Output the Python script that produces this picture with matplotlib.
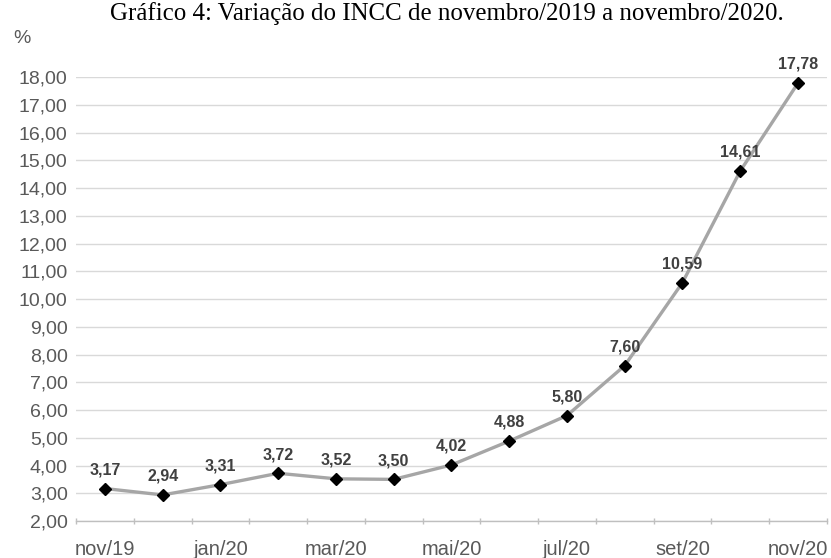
import matplotlib.pyplot as plt

# variação acumulada do INCC em 12 meses (%)
months = ['nov/19', 'dez/19', 'jan/20', 'fev/20', 'mar/20', 'abr/20', 'mai/20',
          'jun/20', 'jul/20', 'ago/20', 'set/20', 'out/20', 'nov/20']
incc = [3.17, 2.94, 3.31, 3.72, 3.52, 3.50, 4.02, 4.88, 5.80, 7.60, 10.59, 14.61, 17.78]
yticks = list(range(2, 19))

fig = plt.figure(figsize=(8.31, 5.58), dpi=100)
ax = fig.add_axes([0.0915, 0.0663, 0.9035, 0.7957])

x = list(range(len(months)))
ax.plot(x, incc, color='#a6a6a6', lw=2.4, marker='D', ms=6.5,
        mfc='black', mec='black', zorder=3)

for xi, v in zip(x, incc):
    ax.annotate(f'{v:.2f}'.replace('.', ','), (xi, v), xytext=(0, 8),
                textcoords='offset points', ha='center', va='bottom',
                fontsize=11.5, fontweight='bold', color='#404040',
                family='Liberation Sans')

ax.set_xlim(-0.5, len(months) - 0.5)
ax.set_ylim(2, 18)
ax.set_yticks(yticks)
ax.set_yticklabels([f'{t:.2f}'.replace('.', ',') for t in yticks],
                   fontsize=14, color='#595959', family='Liberation Sans')
ax.yaxis.grid(True, color='#d9d9d9', lw=1)
ax.set_axisbelow(True)

# rótulos a cada dois meses, marcas entre categorias (estilo Excel)
ax.set_xticks(x[::2])
ax.set_xticklabels(months[::2], fontsize=14.5, color='#595959',
                   family='Liberation Sans')
ax.tick_params(axis='x', length=0, pad=14)
ax.set_xticks([i - 0.5 for i in range(len(months) + 1)], minor=True)
ax.tick_params(axis='x', which='minor', length=5, direction='inout',
               color='#bfbfbf', width=1)
ax.tick_params(axis='y', length=0, pad=6)

for s in ['top', 'right', 'left']:
    ax.spines[s].set_visible(False)
ax.spines['bottom'].set_color('#bfbfbf')
ax.spines['bottom'].set_linewidth(1)

fig.text(0.027, 0.915, '%', fontsize=14, color='#595959',
         family='Liberation Sans', ha='center', va='bottom')
fig.text(0.538, 0.997, 'Gráfico 4: Variação do INCC de novembro/2019 a novembro/2020.',
         fontsize=17.9, family='Liberation Serif', ha='center', va='top')

fig.savefig('out.png', dpi=100)
